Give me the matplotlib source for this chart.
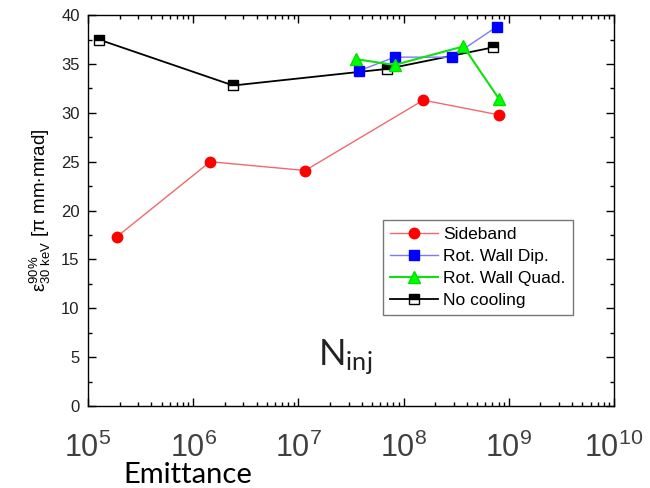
import matplotlib
matplotlib.use("Agg")
import matplotlib.pyplot as plt
from matplotlib.ticker import LogLocator, NullFormatter, MultipleLocator

plt.rcParams['font.family'] = ['Liberation Sans', 'DejaVu Sans']
plt.rcParams['mathtext.fontset'] = 'custom'
plt.rcParams['mathtext.rm'] = 'Liberation Sans'
plt.rcParams['mathtext.it'] = 'Liberation Sans:italic'
plt.rcParams['mathtext.default'] = 'regular'

# datos
sideband_x = [1.87e5, 1.45e6, 1.16e7, 1.54e8, 8.0e8]
sideband_y = [17.3, 25.0, 24.1, 31.3, 29.8]

dip_x = [3.77e7, 8.2e7, 2.86e8, 7.65e8]
dip_y = [34.3, 35.7, 35.7, 38.8]

quad_x = [3.5e7, 8.2e7, 3.7e8, 8.1e8]
quad_y = [35.5, 34.9, 36.8, 31.4]

nocool_x = [1.27e5, 2.4e6, 7.0e7, 7.1e8]
nocool_y = [37.5, 32.8, 34.5, 36.7]

fig = plt.figure(figsize=(6.5, 4.88), dpi=100)
ax = fig.add_axes([0.1354, 0.168, 0.8092, 0.801])

ax.plot(nocool_x, nocool_y, '-', color='black', lw=1.3, marker='s', ms=7,
        fillstyle='top', mfc='black', mfcalt='white', mec='black', mew=1.0,
        label='No cooling', zorder=2)
ax.plot(sideband_x, sideband_y, '-', color='#f06a6a', lw=1.0, marker='o', ms=7.5,
        mfc='red', mec='red', label='Sideband', zorder=3)
ax.plot(dip_x, dip_y, '-', color='#7a7aff', lw=1.0, marker='s', ms=7,
        mfc='blue', mec='blue', label='Rot. Wall Dip.', zorder=3)
ax.plot(quad_x, quad_y, '-', color='#10e010', lw=1.5, marker='^', ms=8,
        mfc='#00ff00', mec='#00e000', label='Rot. Wall Quad.', zorder=4)

ax.set_xscale('log')
ax.set_xlim(1e5, 1e10)
ax.set_ylim(0, 40)

ax.xaxis.set_major_locator(LogLocator(base=10, numticks=10))
ax.xaxis.set_minor_locator(LogLocator(base=10, subs=range(2, 10), numticks=20))
ax.xaxis.set_minor_formatter(NullFormatter())
ax.yaxis.set_major_locator(MultipleLocator(5))
ax.yaxis.set_minor_locator(MultipleLocator(2.5))

ax.tick_params(which='both', direction='in', top=True, right=True, width=1.0)
ax.tick_params(which='major', length=6)
ax.tick_params(which='minor', length=3)
ax.tick_params(axis='y', labelsize=12, pad=6, labelcolor='#222222')
ax.tick_params(axis='x', labelsize=22, pad=19, labelcolor='#404040')
for s in ax.spines.values():
    s.set_linewidth(1.0)

ax.set_ylabel(r'$\varepsilon^{90\%}_{30\ keV}$ [$\pi$ mm$\cdot$mrad]', fontsize=13.5, labelpad=6)

# orden de la leyenda
h, l = ax.get_legend_handles_labels()
orden = [1, 2, 3, 0]
leg = ax.legend([h[i] for i in orden], [l[i] for i in orden], loc='upper left',
                bbox_to_anchor=(0.56, 0.476), fontsize=12.5, frameon=True, fancybox=False,
                edgecolor='#555555', handlelength=2.8, handletextpad=0.3,
                labelspacing=0.4, borderpad=0.4, borderaxespad=0.0)
leg.get_frame().set_linewidth(1.0)

ax.text(0.49, 0.125, r'N$_{inj}$', transform=ax.transAxes, fontsize=26,
        family=['Lato', 'DejaVu Sans'], ha='center', va='center', color='#222222')

fig.text(123 / 650, 5 / 488, 'Emittance', fontsize=21, family=['Lato', 'DejaVu Sans'],
         ha='left', va='baseline', color='black')

fig.savefig('out.png', dpi=100)
